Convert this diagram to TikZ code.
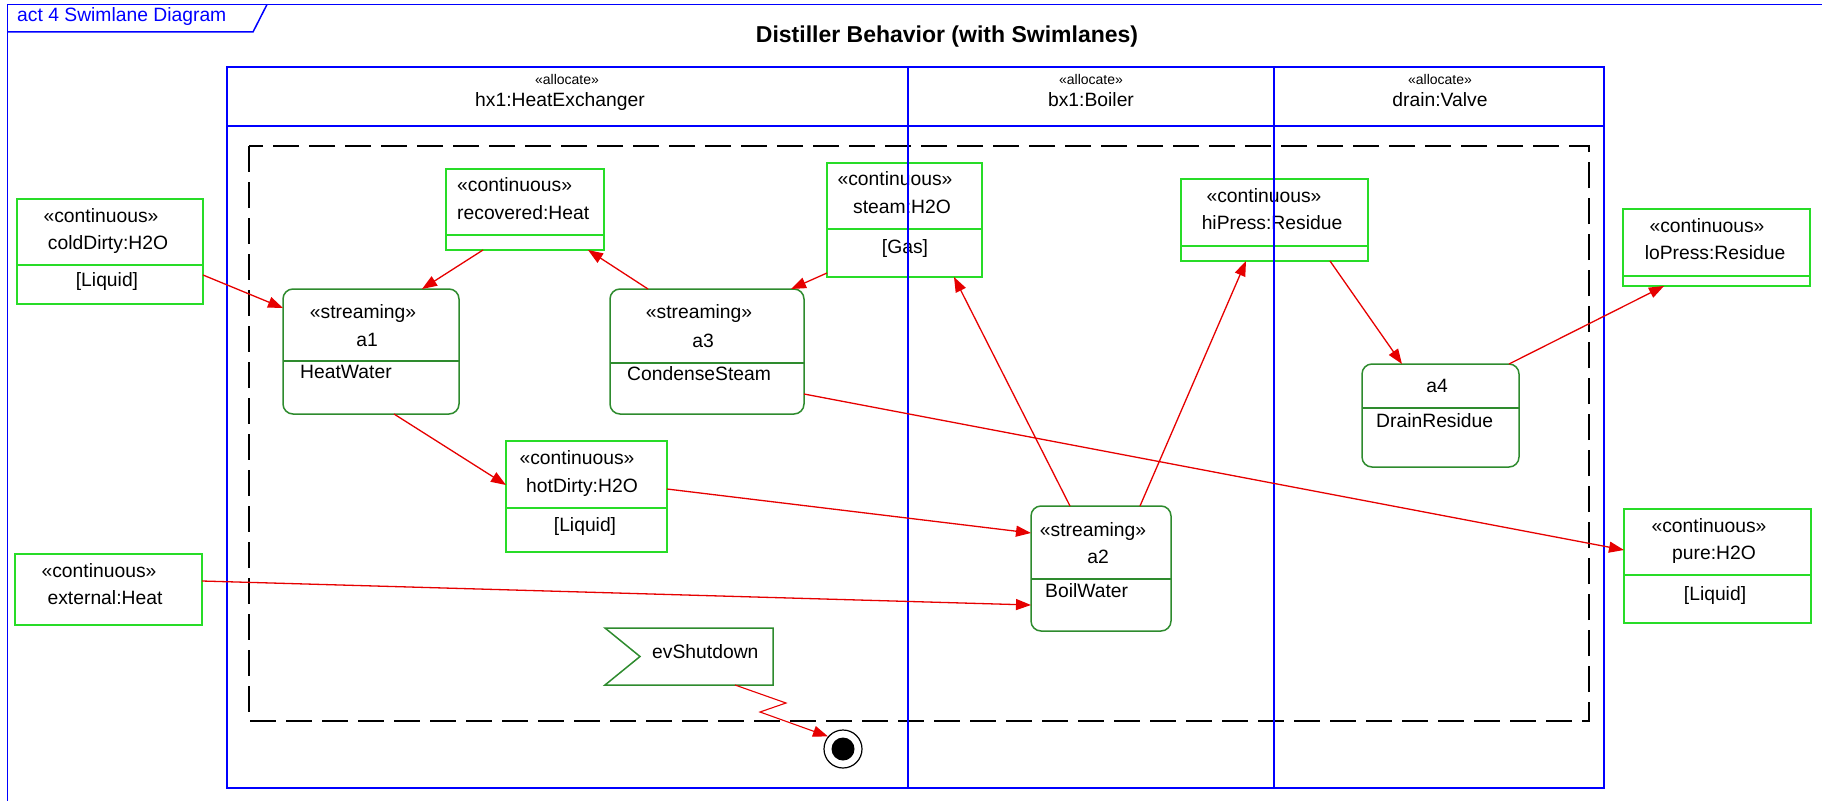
\documentclass[tikz,border=0pt]{standalone}
\usepackage{fontspec}
\setmainfont{Liberation Sans}
\usetikzlibrary{arrows.meta,calc}
\definecolor{laneblue}{RGB}{0,0,255}
\definecolor{objgreen}{RGB}{40,220,40}
\definecolor{actgreen}{RGB}{46,139,46}
\definecolor{flowred}{RGB}{230,0,0}
\newcommand\bodyfont{\fontsize{19.3}{23}\selectfont}
\newcommand\stereofont{\fontsize{14}{16}\selectfont}
\begin{document}
\begin{tikzpicture}[x=1pt,y=-1pt,
  txt/.style={inner sep=0pt, text height=13.5pt, text depth=3.5pt, font=\bodyfont},
  small/.style={inner sep=0pt, text height=10pt, text depth=2.5pt, font=\stereofont},
  objbox/.style={draw=objgreen, line width=1.5pt, anchor=north west, inner sep=0pt, outer sep=0pt},
  actbox/.style={draw=actgreen, line width=1.5pt, rounded corners=10pt, anchor=north west, inner sep=0pt, outer sep=0pt},
  objline/.style={draw=objgreen, line width=1.5pt},
  actline/.style={draw=actgreen, line width=1.5pt},
  flow/.style={draw=flowred, line width=1.3pt, -{Triangle[length=15pt,width=11pt]}},
  lane/.style={draw=laneblue, line width=2.6pt},
  frame/.style={draw=laneblue, line width=1.5pt},
]
\useasboundingbox (0,0) rectangle (1822,800);

% diagram frame and its name tab
\draw[frame] (7.7,810) -- (7.7,4.5) -- (1830,4.5);
\draw[frame] (7.7,32) -- (253,32) -- (267,4.5);
\node[txt, anchor=west, text=laneblue] (tab) at (17,17) {act 4 Swimlane Diagram};

% title
\node[inner sep=0pt, font=\bfseries\fontsize{23}{27}\selectfont] (title) at (947,37) {Distiller Behavior (with Swimlanes)};

% interruptible region
\draw[black, line width=1.8pt, dash pattern=on 26pt off 10pt] (249,146) rectangle (1589,721);

% object nodes
\node[objbox, minimum width=186pt, minimum height=105pt] (cd) at (17,199) {};
\draw[objline] ($(cd.north west)+(0,66)$) -- ($(cd.north east)+(0,66)$);
\node[txt] (cdS) at (101,217) {«continuous»};
\node[txt] (cdN) at (108,244) {coldDirty:H2O};
\node[txt] (cdL) at (107,281) {[Liquid]};

\node[objbox, minimum width=158pt, minimum height=81pt] (rh) at (446,169) {};
\draw[objline] ($(rh.north west)+(0,66)$) -- ($(rh.north east)+(0,66)$);
\node[txt, anchor=west] (rhS) at (457,186) {«continuous»};
\node[txt, anchor=west] (rhN) at (457,214) {recovered:Heat};

\node[objbox, minimum width=155pt, minimum height=114pt] (st) at (827,163) {};
\draw[objline] ($(st.north west)+(0,66)$) -- ($(st.north east)+(0,66)$);
\node[txt] (stS) at (895,180) {«continuous»};
\node[txt] (stN) at (902,208) {steam:H2O};
\node[txt] (stL) at (905,248) {[Gas]};

\node[objbox, minimum width=187pt, minimum height=82pt] (hp) at (1181,179) {};
\draw[objline] ($(hp.north west)+(0,67)$) -- ($(hp.north east)+(0,67)$);
\node[txt] (hpS) at (1264,197) {«continuous»};
\node[txt] (hpN) at (1272,224) {hiPress:Residue};

\node[objbox, minimum width=187pt, minimum height=77pt] (lp) at (1623,209) {};
\draw[objline] ($(lp.north west)+(0,67)$) -- ($(lp.north east)+(0,67)$);
\node[txt] (lpS) at (1707,227) {«continuous»};
\node[txt] (lpN) at (1715,254) {loPress:Residue};

\node[objbox, minimum width=161pt, minimum height=111pt] (hd) at (506,441) {};
\draw[objline] ($(hd.north west)+(0,67)$) -- ($(hd.north east)+(0,67)$);
\node[txt] (hdS) at (577,459) {«continuous»};
\node[txt] (hdN) at (582,487) {hotDirty:H2O};
\node[txt] (hdL) at (585,526) {[Liquid]};

\node[objbox, minimum width=187pt, minimum height=71pt] (eh) at (15,554) {};
\node[txt] (ehS) at (99,572) {«continuous»};
\node[txt] (ehN) at (105,599) {external:Heat};

\node[objbox, minimum width=187pt, minimum height=114pt] (pw) at (1624,509) {};
\draw[objline] ($(pw.north west)+(0,66)$) -- ($(pw.north east)+(0,66)$);
\node[txt] (pwS) at (1709,527) {«continuous»};
\node[txt] (pwN) at (1714,554) {pure:H2O};
\node[txt] (pwL) at (1715,595) {[Liquid]};

% actions
\node[actbox, minimum width=176pt, minimum height=125pt] (a1) at (283,289) {};
\draw[actline] ($(a1.north west)+(0,72)$) -- ($(a1.north east)+(0,72)$);
\node[txt] (a1S) at (363,313) {«streaming»};
\node[txt] (a1N) at (367,341) {a1};
\node[txt, anchor=west] (a1B) at (300,373) {HeatWater};

\node[actbox, minimum width=194pt, minimum height=125pt] (a3) at (610,289) {};
\draw[actline] ($(a3.north west)+(0,74)$) -- ($(a3.north east)+(0,74)$);
\node[txt] (a3S) at (699,313) {«streaming»};
\node[txt] (a3N) at (703,342) {a3};
\node[txt, anchor=west] (a3B) at (627,375) {CondenseSteam};

\node[actbox, minimum width=140pt, minimum height=125pt] (a2) at (1031,506) {};
\draw[actline] ($(a2.north west)+(0,73)$) -- ($(a2.north east)+(0,73)$);
\node[txt] (a2S) at (1093,531) {«streaming»};
\node[txt] (a2N) at (1098,558) {a2};
\node[txt, anchor=west] (a2B) at (1045,592) {BoilWater};

\node[actbox, minimum width=157pt, minimum height=103pt] (a4) at (1362,364) {};
\draw[actline] ($(a4.north west)+(0,44)$) -- ($(a4.north east)+(0,44)$);
\node[txt] (a4N) at (1437,387) {a4};
\node[txt, anchor=west] (a4B) at (1376,422) {DrainResidue};

% accept event and final node
\node[anchor=north west, inner sep=0pt, outer sep=0pt, minimum width=168pt, minimum height=57pt] (ev) at (605,628) {};
\draw[actline, line join=miter] (ev.north west) -- (ev.north east) -- (ev.south east) -- (ev.south west) -- ($(ev.west)+(35,0)$) -- cycle;
\node[txt, anchor=west] (evT) at (652,653) {evShutdown};

\node[circle, draw=black, line width=1.2pt, minimum size=38pt, inner sep=0pt] (fin) at (843,749) {};
\node[circle, fill=black, minimum size=23pt, inner sep=0pt] (finc) at (fin.center) {};

% swimlanes
\draw[lane] (227,67) rectangle (1604,788);
\draw[lane] (227,126) -- (1604,126);
\draw[lane] (908,67) -- (908,788);
\draw[lane] (1274,67) -- (1274,788);
\node[small] (hxS) at (567,81) {«allocate»};
\node[txt] (hxN) at (560,101) {hx1:HeatExchanger};
\node[small] (bxS) at (1091,81) {«allocate»};
\node[txt] (bxN) at (1091,101) {bx1:Boiler};
\node[small] (drS) at (1440,81) {«allocate»};
\node[txt] (drN) at (1440,101) {drain:Valve};

% object flows
\draw[flow] ($(cd.north west)+(186,76)$) -- ($(a1.north west)+(0,19)$);
\draw[flow] ($(rh.north west)+(37,81)$) -- ($(a1.north west)+(139,0)$);
\draw[flow] ($(a3.north west)+(38,0)$) -- ($(rh.north west)+(142,81)$);
\draw[flow] ($(st.north west)+(0,110)$) -- ($(a3.north west)+(181,0)$);
\draw[flow] ($(a1.north west)+(111,125)$) -- ($(hd.north west)+(0,44)$);
\draw[flow] ($(hd.north west)+(161,48)$) -- ($(a2.north west)+(0,27)$);
\draw[flow] ($(eh.north west)+(187,27)$) -- ($(a2.north west)+(0,99)$);
\draw[flow] ($(a2.north west)+(39,0)$) -- ($(st.north west)+(127,114)$);
\draw[flow] ($(a2.north west)+(109,0)$) -- ($(hp.north west)+(65,82)$);
\draw[flow] ($(hp.north west)+(149,82)$) -- ($(a4.north west)+(40,0)$);
\draw[flow] ($(a4.north west)+(147,0)$) -- ($(lp.north west)+(41,77)$);
\draw[flow] ($(a3.north west)+(194,105)$) -- ($(pw.north west)+(0,41)$);
\draw[flow, line width=1.1pt] ($(ev.north west)+(130,57)$) -- ++(51,18) -- ++(-26,9) -- (fin.140);
\end{tikzpicture}
\end{document}
